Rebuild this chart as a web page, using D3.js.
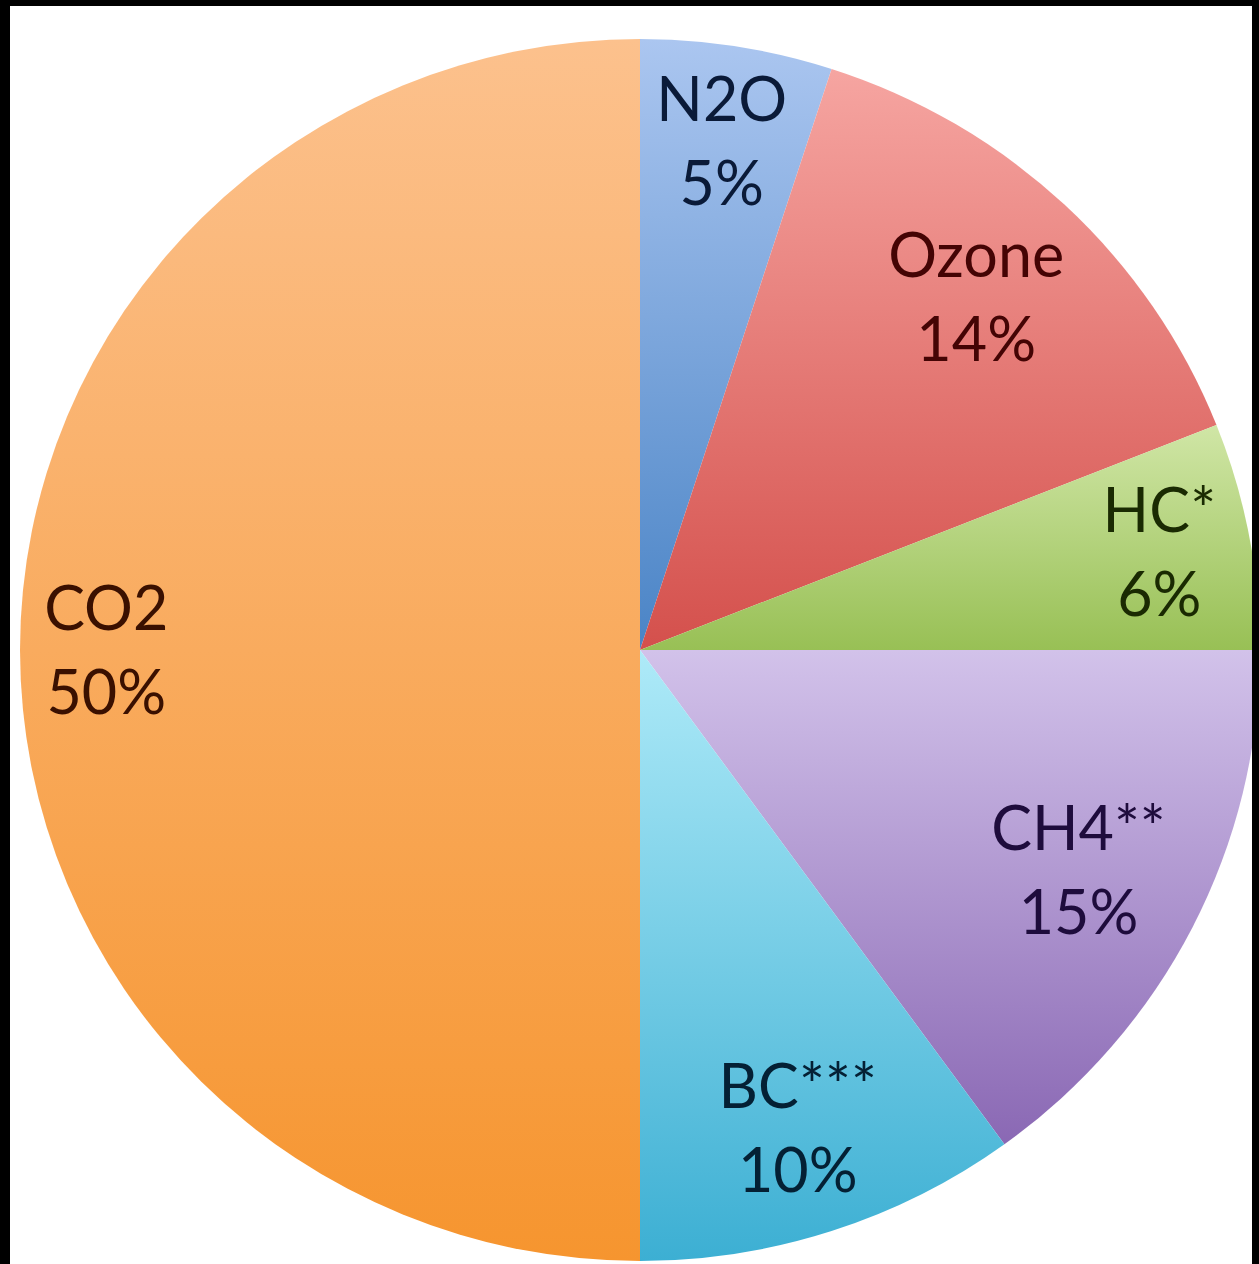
<!DOCTYPE html>
<html>
<head>
<meta charset="utf-8">
<script src="https://cdn.jsdelivr.net/npm/d3@7"></script>
<style>
  html, body { margin: 0; padding: 0; background: #000; }
  svg { display: block; }
</style>
</head>
<body>
<svg id="chart" width="1259" height="1264"></svg>
<script>
// Share of warming contribution by pollutant (clockwise from 12 o'clock)
const categories = ["N2O", "Ozone", "HC*", "CH4**", "BC***", "CO2"];
const shares = [5, 14, 6, 15, 10, 50];

// Slice fills: light at the top of each slice, deeper toward the bottom
const topColors    = ["#abc6f0", "#f6a5a1", "#d0e6a6", "#d2c2ea", "#aeeaf8", "#fcc18d"];
const bottomColors = ["#4a84c6", "#d4504c", "#98c055", "#8a68b4", "#3cafd3", "#f6952f"];
const textColors   = ["#0a1a38", "#440404", "#1a2a02", "#1e0c3c", "#042034", "#3a1000"];

const W = 1259, H = 1264;
const cx = 640, cy = 650;
const R = 611;            // vertical radius
const sx = 620 / 611;     // slight horizontal stretch of the pie
const fontSize = 61;
const lineGap = 84;

const svg = d3.select("#chart");

// white canvas inside a black frame
svg.append("rect").attr("width", W).attr("height", H).attr("fill", "#000");
svg.append("rect").attr("x", 10).attr("y", 6).attr("width", 1242).attr("height", H - 6).attr("fill", "#fff");

const defs = svg.append("defs");
defs.append("clipPath").attr("id", "plotClip")
  .append("rect").attr("x", 10).attr("y", 6).attr("width", 1242).attr("height", H - 6);

categories.forEach((c, i) => {
  const g = defs.append("linearGradient")
    .attr("id", "grad" + i)
    .attr("x1", 0).attr("y1", 0).attr("x2", 0).attr("y2", 1);
  g.append("stop").attr("offset", "0%").attr("stop-color", topColors[i]);
  g.append("stop").attr("offset", "100%").attr("stop-color", bottomColors[i]);
});

const pie = d3.pie().sort(null).value(d => d.value).startAngle(0).endAngle(2 * Math.PI);
const arcs = pie(categories.map((c, i) => ({ name: c, value: shares[i], i })));
const arc = d3.arc().innerRadius(0).outerRadius(R);

const plot = svg.append("g").attr("clip-path", "url(#plotClip)");
plot.append("g")
  .attr("transform", `translate(${cx},${cy}) scale(${sx},1)`)
  .selectAll("path")
  .data(arcs)
  .join("path")
  .attr("d", arc)
  .attr("fill", d => `url(#grad${d.data.i})`);

// Labels: placed along each slice's mid-angle, pushed out as far as the
// text block still fits inside the pie edge (less a margin).
const labelLayer = plot.append("g");
const pad = 20;
arcs.forEach(d => {
  const mid = (d.startAngle + d.endAngle) / 2;
  const t = labelLayer.append("text")
    .attr("font-family", "Lato, 'Open Sans', sans-serif")
    .attr("font-size", fontSize)
    .attr("fill", textColors[d.data.i])
    .attr("text-anchor", "middle");
  t.append("tspan").attr("x", 0).attr("y", 0).text(d.data.name);
  t.append("tspan").attr("x", 0).attr("y", lineGap).text(d.data.value + "%");
  const bb = t.node().getBBox();
  const top = -fontSize * 0.72, bottom = lineGap;  // cap top of line 1 to baseline of line 2
  const halfW = bb.width / 2, halfH = (bottom - top) / 2;
  const offY = top + halfH;                        // block centre relative to first baseline
  let r = R;
  for (; r > 0; r -= 1) {
    const bx = r * Math.sin(mid) * sx, by = -r * Math.cos(mid);
    const corners = [[bx - halfW, by - halfH], [bx + halfW, by - halfH], [bx - halfW, by + halfH], [bx + halfW, by + halfH]];
    if (corners.every(([x, y]) => Math.hypot(x / sx, y) <= R - pad)) break;
  }
  const px = cx + r * Math.sin(mid) * sx;
  const py = cy - r * Math.cos(mid) - offY;
  t.attr("transform", `translate(${px},${py})`);
});
</script>
</body>
</html>
